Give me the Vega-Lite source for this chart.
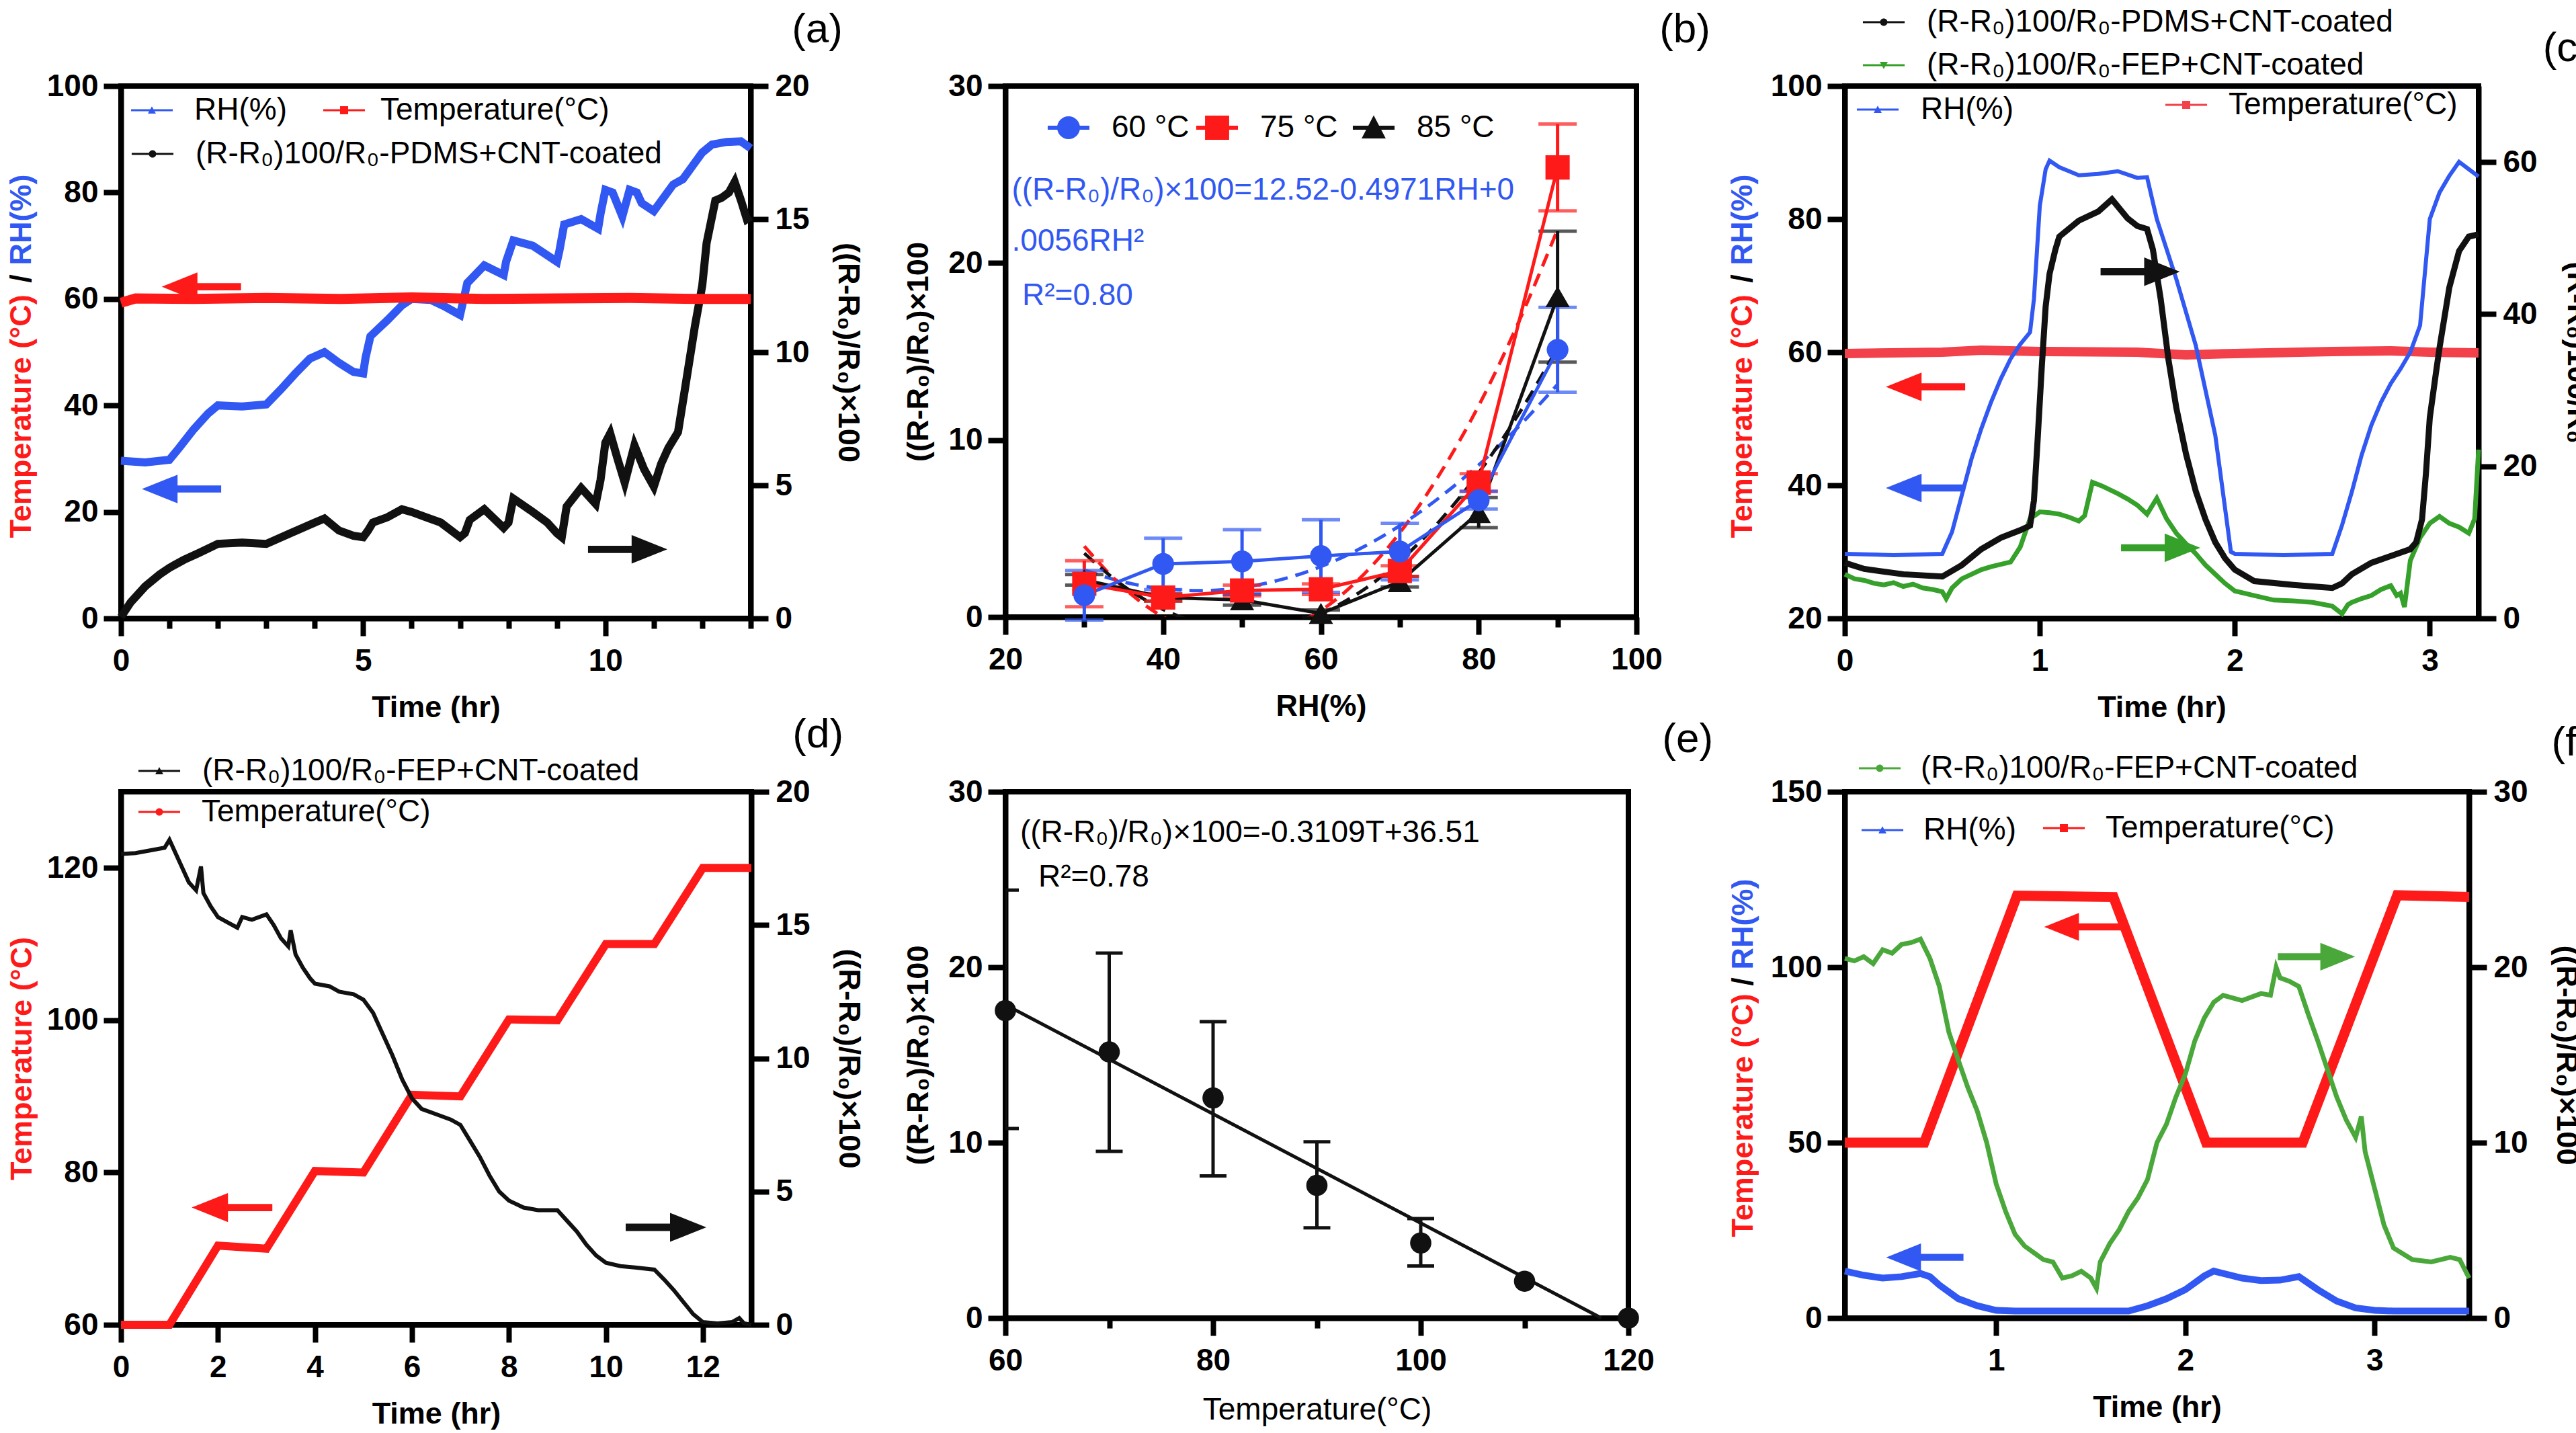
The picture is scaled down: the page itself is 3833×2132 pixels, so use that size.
{
"$schema": "https://vega.github.io/schema/vega-lite/v6.json",
"padding": {"left": 5, "top": 6, "right": 0, "bottom": 0},
"background": "white",
"datasets": {
"a_rh": [{"t":0,"v":29.6},{"t":0.5,"v":29.3},{"t":1.0,"v":29.8},{"t":1.2,"v":32},{"t":1.5,"v":35.5},{"t":1.8,"v":38.5},{"t":2.0,"v":40},{"t":2.5,"v":39.8},{"t":3.0,"v":40.2},{"t":3.3,"v":43},{"t":3.6,"v":46},{"t":3.9,"v":48.8},{"t":4.2,"v":50},{"t":4.5,"v":48},{"t":4.8,"v":46.3},{"t":5.0,"v":46},{"t":5.05,"v":49},{"t":5.15,"v":53},{"t":5.5,"v":56},{"t":5.8,"v":58.8},{"t":6.0,"v":60},{"t":6.4,"v":59.8},{"t":6.7,"v":58.5},{"t":7.0,"v":57},{"t":7.05,"v":59},{"t":7.15,"v":63},{"t":7.5,"v":66.3},{"t":7.9,"v":64.5},{"t":7.95,"v":67},{"t":8.1,"v":71},{"t":8.5,"v":70},{"t":9.0,"v":67},{"t":9.05,"v":69},{"t":9.15,"v":74},{"t":9.5,"v":75},{"t":9.85,"v":73.2},{"t":9.9,"v":76},{"t":10.0,"v":80.5},{"t":10.15,"v":80},{"t":10.35,"v":75.5},{"t":10.5,"v":80.5},{"t":10.65,"v":80},{"t":10.75,"v":78},{"t":11.0,"v":76.5},{"t":11.2,"v":79},{"t":11.4,"v":81.5},{"t":11.6,"v":82.5},{"t":11.8,"v":85},{"t":12.0,"v":87.5},{"t":12.2,"v":89},{"t":12.5,"v":89.5},{"t":12.8,"v":89.6},{"t":13,"v":88.3}],
"a_temp": [{"t":0,"v":59.3},{"t":0.3,"v":60.1},{"t":1.5,"v":60},{"t":3,"v":60.2},{"t":4.5,"v":60},{"t":6,"v":60.3},{"t":7.5,"v":60},{"t":9,"v":60.1},{"t":10.5,"v":60.2},{"t":12,"v":60},{"t":13,"v":60}],
"a_r": [{"t":0,"v":0.05},{"t":0.2,"v":0.6},{"t":0.5,"v":1.2},{"t":0.8,"v":1.65},{"t":1.0,"v":1.9},{"t":1.3,"v":2.2},{"t":1.6,"v":2.45},{"t":2.0,"v":2.8},{"t":2.5,"v":2.85},{"t":3.0,"v":2.8},{"t":3.5,"v":3.2},{"t":4.0,"v":3.6},{"t":4.2,"v":3.75},{"t":4.5,"v":3.3},{"t":4.8,"v":3.1},{"t":5.0,"v":3.05},{"t":5.1,"v":3.3},{"t":5.2,"v":3.6},{"t":5.5,"v":3.8},{"t":5.8,"v":4.1},{"t":6.0,"v":4.0},{"t":6.3,"v":3.8},{"t":6.6,"v":3.6},{"t":7.0,"v":3.05},{"t":7.1,"v":3.2},{"t":7.2,"v":3.7},{"t":7.5,"v":4.1},{"t":7.9,"v":3.4},{"t":8.0,"v":3.6},{"t":8.1,"v":4.5},{"t":8.5,"v":4.0},{"t":8.8,"v":3.6},{"t":9.0,"v":3.2},{"t":9.1,"v":3.05},{"t":9.2,"v":4.2},{"t":9.5,"v":4.9},{"t":9.8,"v":4.3},{"t":9.9,"v":5.2},{"t":10.0,"v":6.6},{"t":10.1,"v":6.95},{"t":10.25,"v":6.0},{"t":10.4,"v":5.1},{"t":10.6,"v":6.5},{"t":10.8,"v":5.6},{"t":11.0,"v":4.95},{"t":11.15,"v":5.8},{"t":11.3,"v":6.4},{"t":11.5,"v":7.0},{"t":11.65,"v":8.7},{"t":11.85,"v":11.0},{"t":12.0,"v":12.5},{"t":12.09,"v":14.1},{"t":12.27,"v":15.7},{"t":12.4,"v":15.8},{"t":12.55,"v":16.0},{"t":12.67,"v":16.4},{"t":12.8,"v":15.7},{"t":12.92,"v":15.0},{"t":13,"v":15.1}],
"b60": [{"rh":30,"v":1.23,"lo":-0.17,"hi":2.63},{"rh":40,"v":3.0,"lo":1.55,"hi":4.45},{"rh":50,"v":3.14,"lo":1.34,"hi":4.94},{"rh":60,"v":3.45,"lo":1.4,"hi":5.5},{"rh":70,"v":3.7,"lo":2.1,"hi":5.3},{"rh":80,"v":6.6,"lo":6.1,"hi":7.1},{"rh":90,"v":15.1,"lo":12.7,"hi":17.5}],
"b75": [{"rh":30,"v":1.88,"lo":0.58,"hi":3.18},{"rh":40,"v":1.1,"lo":0.9,"hi":1.3},{"rh":50,"v":1.5,"lo":1.2,"hi":1.8},{"rh":60,"v":1.57,"lo":1.27,"hi":1.87},{"rh":70,"v":2.6,"lo":2.3,"hi":2.9},{"rh":80,"v":7.6,"lo":7.1,"hi":8.1},{"rh":90,"v":25.4,"lo":22.95,"hi":27.85}],
"b85": [{"rh":30,"v":2.1,"lo":1.8,"hi":2.4},{"rh":40,"v":1.1,"lo":0.9,"hi":1.3},{"rh":50,"v":0.97,"lo":0.67,"hi":1.27},{"rh":60,"v":0.2,"lo":0.0,"hi":0.4},{"rh":70,"v":2.0,"lo":1.7,"hi":2.3},{"rh":80,"v":5.9,"lo":5.05,"hi":6.75},{"rh":90,"v":18.1,"lo":14.4,"hi":21.8}],
"b60fit": [{"rh":30,"v":2.65},{"rh":35,"v":1.98},{"rh":40,"v":1.6},{"rh":45,"v":1.49},{"rh":50,"v":1.67},{"rh":55,"v":2.12},{"rh":60,"v":2.85},{"rh":65,"v":3.87},{"rh":70,"v":5.16},{"rh":75,"v":6.74},{"rh":80,"v":8.59},{"rh":85,"v":10.73},{"rh":90,"v":13.14}],
"b75fit": [{"rh":30,"v":4.0},{"rh":35,"v":1.65},{"rh":40,"v":0.0},{"rh":45,"v":-0.96},{"rh":50,"v":-1.21},{"rh":55,"v":-0.7},{"rh":60,"v":0.37},{"rh":65,"v":2.22},{"rh":70,"v":4.76},{"rh":75,"v":8.03},{"rh":80,"v":11.94},{"rh":85,"v":16.6},{"rh":90,"v":21.9}],
"b85fit": [{"rh":30,"v":3.6},{"rh":35,"v":1.75},{"rh":40,"v":0.43},{"rh":45,"v":-0.4},{"rh":50,"v":-0.71},{"rh":55,"v":-0.51},{"rh":60,"v":0.2},{"rh":65,"v":1.42},{"rh":70,"v":3.16},{"rh":75,"v":5.4},{"rh":80,"v":8.15},{"rh":85,"v":11.42},{"rh":90,"v":15.2}],
"c_rh": [{"t":0,"v":29.7},{"t":0.25,"v":29.5},{"t":0.5,"v":29.7},{"t":0.55,"v":33},{"t":0.6,"v":38.5},{"t":0.65,"v":44},{"t":0.7,"v":48.5},{"t":0.75,"v":52.5},{"t":0.8,"v":56},{"t":0.85,"v":59},{"t":0.9,"v":61.2},{"t":0.95,"v":63},{"t":0.97,"v":68},{"t":1.0,"v":82},{"t":1.03,"v":87.5},{"t":1.05,"v":88.8},{"t":1.1,"v":87.8},{"t":1.2,"v":86.6},{"t":1.3,"v":86.8},{"t":1.4,"v":87.2},{"t":1.5,"v":86.2},{"t":1.55,"v":86.3},{"t":1.6,"v":80},{"t":1.7,"v":71},{"t":1.8,"v":61},{"t":1.9,"v":47.5},{"t":1.98,"v":30},{"t":2.0,"v":29.7},{"t":2.25,"v":29.5},{"t":2.5,"v":29.7},{"t":2.55,"v":34},{"t":2.6,"v":39},{"t":2.65,"v":44.5},{"t":2.7,"v":49},{"t":2.75,"v":52.5},{"t":2.8,"v":55.3},{"t":2.85,"v":57.5},{"t":2.9,"v":60},{"t":2.95,"v":64},{"t":3.0,"v":80},{"t":3.05,"v":84},{"t":3.1,"v":86.5},{"t":3.15,"v":88.6},{"t":3.2,"v":87.5},{"t":3.25,"v":86.4}],
"c_temp": [{"t":0,"v":59.8},{"t":0.5,"v":60},{"t":0.7,"v":60.3},{"t":1.0,"v":60.1},{"t":1.5,"v":60},{"t":1.75,"v":59.6},{"t":2.0,"v":59.8},{"t":2.5,"v":60.1},{"t":2.8,"v":60.2},{"t":3.0,"v":60},{"t":3.25,"v":59.9}],
"c_pdms": [{"t":0,"v":7.3},{"t":0.1,"v":6.5},{"t":0.3,"v":5.8},{"t":0.5,"v":5.5},{"t":0.6,"v":7.0},{"t":0.7,"v":9.1},{"t":0.8,"v":10.6},{"t":0.9,"v":11.6},{"t":0.95,"v":12.2},{"t":0.97,"v":15.5},{"t":0.99,"v":24},{"t":1.01,"v":33},{"t":1.03,"v":41},{"t":1.05,"v":45.3},{"t":1.08,"v":48.5},{"t":1.1,"v":50.2},{"t":1.2,"v":52.3},{"t":1.3,"v":53.5},{"t":1.37,"v":55.1},{"t":1.45,"v":52.6},{"t":1.5,"v":51.6},{"t":1.55,"v":51.2},{"t":1.58,"v":48.5},{"t":1.62,"v":42},{"t":1.66,"v":34},{"t":1.7,"v":27.7},{"t":1.75,"v":21.6},{"t":1.8,"v":16.7},{"t":1.85,"v":13},{"t":1.9,"v":10.0},{"t":1.95,"v":7.9},{"t":2.0,"v":6.4},{"t":2.1,"v":4.9},{"t":2.3,"v":4.4},{"t":2.5,"v":4.0},{"t":2.55,"v":4.6},{"t":2.6,"v":5.8},{"t":2.7,"v":7.3},{"t":2.8,"v":8.2},{"t":2.9,"v":9.1},{"t":2.93,"v":10},{"t":2.96,"v":13},{"t":2.98,"v":19},{"t":3.0,"v":26.4},{"t":3.03,"v":32},{"t":3.05,"v":35.6},{"t":3.1,"v":43.5},{"t":3.15,"v":48.3},{"t":3.2,"v":50.2},{"t":3.25,"v":50.5}],
"c_fep": [{"t":0,"v":5.8},{"t":0.05,"v":5.2},{"t":0.1,"v":5.0},{"t":0.15,"v":4.6},{"t":0.2,"v":4.4},{"t":0.25,"v":4.7},{"t":0.3,"v":4.2},{"t":0.35,"v":4.5},{"t":0.4,"v":4.0},{"t":0.45,"v":3.8},{"t":0.5,"v":3.5},{"t":0.52,"v":2.6},{"t":0.55,"v":4.0},{"t":0.6,"v":5.2},{"t":0.65,"v":5.8},{"t":0.7,"v":6.4},{"t":0.75,"v":6.8},{"t":0.8,"v":7.1},{"t":0.85,"v":7.4},{"t":0.9,"v":9.4},{"t":0.95,"v":13.1},{"t":1.0,"v":14.0},{"t":1.05,"v":13.9},{"t":1.1,"v":13.7},{"t":1.15,"v":13.3},{"t":1.2,"v":12.8},{"t":1.23,"v":13.5},{"t":1.27,"v":17.9},{"t":1.32,"v":17.4},{"t":1.4,"v":16.4},{"t":1.45,"v":15.7},{"t":1.5,"v":14.9},{"t":1.55,"v":13.7},{"t":1.6,"v":15.8},{"t":1.65,"v":13.1},{"t":1.7,"v":11.2},{"t":1.75,"v":9.8},{"t":1.8,"v":8.5},{"t":1.85,"v":7.0},{"t":1.9,"v":5.8},{"t":1.95,"v":4.6},{"t":2.0,"v":3.6},{"t":2.1,"v":3.0},{"t":2.2,"v":2.4},{"t":2.3,"v":2.3},{"t":2.4,"v":2.1},{"t":2.5,"v":1.6},{"t":2.55,"v":0.6},{"t":2.58,"v":1.8},{"t":2.6,"v":2.1},{"t":2.65,"v":2.6},{"t":2.7,"v":3.0},{"t":2.75,"v":3.8},{"t":2.8,"v":4.3},{"t":2.83,"v":3.0},{"t":2.85,"v":3.3},{"t":2.87,"v":1.5},{"t":2.88,"v":3.5},{"t":2.9,"v":7.6},{"t":2.95,"v":10.6},{"t":3.0,"v":12.5},{"t":3.05,"v":13.4},{"t":3.1,"v":12.5},{"t":3.15,"v":12.0},{"t":3.2,"v":11.2},{"t":3.23,"v":13.1},{"t":3.25,"v":22.2}],
"d_temp": [{"t":0,"v":60},{"t":1,"v":60},{"t":2,"v":70.4},{"t":3,"v":70},{"t":4,"v":80.2},{"t":5,"v":80},{"t":6,"v":90.2},{"t":7,"v":90},{"t":8,"v":100.1},{"t":9,"v":100},{"t":10,"v":110},{"t":11,"v":110},{"t":12,"v":120},{"t":13,"v":120}],
"d_fep": [{"t":0,"v":17.67},{"t":0.3,"v":17.7},{"t":0.6,"v":17.8},{"t":0.9,"v":17.9},{"t":1.0,"v":18.2},{"t":1.1,"v":17.8},{"t":1.25,"v":17.2},{"t":1.4,"v":16.6},{"t":1.55,"v":16.3},{"t":1.65,"v":17.2},{"t":1.7,"v":16.2},{"t":1.85,"v":15.7},{"t":2.0,"v":15.3},{"t":2.2,"v":15.1},{"t":2.4,"v":14.9},{"t":2.5,"v":15.3},{"t":2.7,"v":15.2},{"t":3.0,"v":15.4},{"t":3.15,"v":15.0},{"t":3.3,"v":14.5},{"t":3.45,"v":14.2},{"t":3.5,"v":14.8},{"t":3.6,"v":13.9},{"t":3.75,"v":13.4},{"t":3.9,"v":13.0},{"t":4.0,"v":12.8},{"t":4.3,"v":12.7},{"t":4.5,"v":12.5},{"t":4.8,"v":12.4},{"t":5.0,"v":12.2},{"t":5.2,"v":11.7},{"t":5.4,"v":10.9},{"t":5.6,"v":10.1},{"t":5.8,"v":9.2},{"t":6.0,"v":8.5},{"t":6.2,"v":8.1},{"t":6.5,"v":7.9},{"t":6.8,"v":7.7},{"t":7.0,"v":7.5},{"t":7.2,"v":6.9},{"t":7.4,"v":6.3},{"t":7.6,"v":5.6},{"t":7.8,"v":5.0},{"t":8.0,"v":4.66},{"t":8.3,"v":4.4},{"t":8.6,"v":4.3},{"t":9.0,"v":4.3},{"t":9.2,"v":3.9},{"t":9.4,"v":3.5},{"t":9.6,"v":3.0},{"t":9.8,"v":2.6},{"t":10.0,"v":2.33},{"t":10.3,"v":2.2},{"t":10.6,"v":2.15},{"t":11.0,"v":2.07},{"t":11.2,"v":1.7},{"t":11.4,"v":1.3},{"t":11.6,"v":0.85},{"t":11.8,"v":0.4},{"t":12.0,"v":0.1},{"t":12.3,"v":0.05},{"t":12.6,"v":0.1},{"t":12.75,"v":0.25},{"t":12.85,"v":0.05},{"t":13,"v":0.0}],
"e_pts": [{"T":60,"v":17.53},{"T":70,"v":15.17},{"T":80,"v":12.55},{"T":90,"v":7.56},{"T":100,"v":4.28},{"T":110,"v":2.1},{"T":120,"v":0}],
"e_err": [{"T":60,"lo":10.8,"hi":24.4},{"T":70,"lo":9.5,"hi":20.8},{"T":80,"lo":8.1,"hi":16.9},{"T":90,"lo":5.14,"hi":10.05},{"T":100,"lo":2.97,"hi":5.67}],
"e_fit": [{"T":60,"v":17.86},{"T":117.4,"v":0}],
"f_temp": [{"t":0.2,"v":50},{"t":0.62,"v":50},{"t":1.11,"v":120.4},{"t":1.62,"v":120},{"t":2.11,"v":50},{"t":2.62,"v":50},{"t":3.12,"v":120.5},{"t":3.5,"v":120}],
"f_rh": [{"t":0.2,"v":13.4},{"t":0.3,"v":12.2},{"t":0.4,"v":11.4},{"t":0.5,"v":11.8},{"t":0.6,"v":12.7},{"t":0.65,"v":11.8},{"t":0.7,"v":9.4},{"t":0.8,"v":5.5},{"t":0.9,"v":3.5},{"t":1.0,"v":2.2},{"t":1.1,"v":2.0},{"t":1.4,"v":2.0},{"t":1.7,"v":2.0},{"t":1.8,"v":3.5},{"t":1.9,"v":5.5},{"t":2.0,"v":8.1},{"t":2.1,"v":12.0},{"t":2.15,"v":13.4},{"t":2.3,"v":11.4},{"t":2.4,"v":10.7},{"t":2.5,"v":10.8},{"t":2.6,"v":11.8},{"t":2.7,"v":8.1},{"t":2.8,"v":4.85},{"t":2.9,"v":2.9},{"t":3.0,"v":2.2},{"t":3.1,"v":2.0},{"t":3.5,"v":2.0}],
"f_fep": [{"t":0.2,"v":20.5},{"t":0.25,"v":20.36},{"t":0.3,"v":20.6},{"t":0.35,"v":20.2},{"t":0.4,"v":21.0},{"t":0.45,"v":20.8},{"t":0.5,"v":21.3},{"t":0.55,"v":21.4},{"t":0.6,"v":21.6},{"t":0.65,"v":20.5},{"t":0.7,"v":18.9},{"t":0.75,"v":16.3},{"t":0.8,"v":14.7},{"t":0.85,"v":13.15},{"t":0.9,"v":11.8},{"t":0.95,"v":10.0},{"t":1.0,"v":7.65},{"t":1.05,"v":6.08},{"t":1.1,"v":4.77},{"t":1.15,"v":4.11},{"t":1.2,"v":3.72},{"t":1.25,"v":3.33},{"t":1.3,"v":3.2},{"t":1.35,"v":2.28},{"t":1.4,"v":2.41},{"t":1.45,"v":2.67},{"t":1.5,"v":2.28},{"t":1.53,"v":1.7},{"t":1.55,"v":3.2},{"t":1.6,"v":4.24},{"t":1.65,"v":5.03},{"t":1.7,"v":6.08},{"t":1.75,"v":6.86},{"t":1.8,"v":7.9},{"t":1.85,"v":10.0},{"t":1.9,"v":11.05},{"t":1.95,"v":12.6},{"t":2.0,"v":13.9},{"t":2.05,"v":15.8},{"t":2.1,"v":17.1},{"t":2.15,"v":18.0},{"t":2.2,"v":18.4},{"t":2.3,"v":18.1},{"t":2.4,"v":18.5},{"t":2.45,"v":18.4},{"t":2.48,"v":20.0},{"t":2.5,"v":19.4},{"t":2.55,"v":19.2},{"t":2.6,"v":18.9},{"t":2.65,"v":17.3},{"t":2.7,"v":15.8},{"t":2.75,"v":14.2},{"t":2.8,"v":12.6},{"t":2.85,"v":11.3},{"t":2.9,"v":10.3},{"t":2.93,"v":11.5},{"t":2.95,"v":9.5},{"t":3.0,"v":7.4},{"t":3.05,"v":5.3},{"t":3.1,"v":4.0},{"t":3.2,"v":3.33},{"t":3.3,"v":3.2},{"t":3.4,"v":3.46},{"t":3.45,"v":3.33},{"t":3.5,"v":2.28}]
},
"concat": [
{
"width": 937, "height": 792,
"layer": [
{"data": {"name": "a_rh"}, "mark": {"type": "line"}, "encoding": {
 "x": {"field": "t", "type": "quantitative", "scale": {"domain": [0, 13], "nice": false, "zero": false}, "axis": {"title": "Time (hr)", "format": "d", "values": [0,1,2,3,4,5,6,7,8,9,10,11,12,13], "labelExpr": "datum.value % 5 === 0 ? datum.label : ''", "tickSize": {"condition": {"test": "datum.value % 5 === 0", "value": 26}, "value": 15}}},
 "y": {"field": "v", "type": "quantitative", "scale": {"domain": [0, 100], "nice": false}, "axis": {"orient": "left", "values": [0,20,40,60,80,100], "title": "RH(%)", "titleColor": "#3158f2", "titleX": -126, "titleY": 266, "titleAlign": "left", "titleAngle": 270, "titleBaseline": "bottom"}},
 "color": {"datum": "RH(%)", "scale": {"domain": ["RH(%)"], "range": ["#3158f2"]}, "legend": {"title": null, "symbolType": "M-1.35,-0.07H1.35V0.07H-1.35ZM-0.26,0.22L0,-0.25L0.26,0.22Z", "symbolFillColor": "#3158f2", "legendX": 23, "legendY": 13, "labelOffset": 40}},
 "strokeWidth": {"value": 12}}},
{"data": {"name": "a_r"}, "mark": {"type": "line"}, "encoding": {
 "x": {"field": "t", "type": "quantitative", "scale": {"domain": [0, 13], "nice": false, "zero": false}},
 "y": {"field": "v", "type": "quantitative", "scale": {"domain": [0, 20], "nice": false}, "axis": {"orient": "right", "values": [0,5,10,15,20], "title": "((R-R\u2080)/R\u2080)\u00d7100"}},
 "color": {"datum": "(R-R\u2080)100/R\u2080-PDMS+CNT-coated", "scale": {"domain": ["(R-R\u2080)100/R\u2080-PDMS+CNT-coated"], "range": ["#111111"]}, "legend": {"title": null, "symbolType": "M-1.35,-0.07H1.35V0.07H-1.35ZM-0.24,0A0.24,0.24,0,1,1,0.24,0A0.24,0.24,0,1,1,-0.24,0Z", "symbolFillColor": "#111111", "legendX": 24, "legendY": 78, "labelOffset": 41}},
 "strokeWidth": {"value": 12}}},
{"data": {"name": "a_temp"}, "mark": {"type": "line"}, "encoding": {
 "x": {"field": "t", "type": "quantitative", "scale": {"domain": [0, 13], "nice": false, "zero": false}},
 "y": {"field": "v", "type": "quantitative", "scale": {"domain": [0, 100], "nice": false}, "axis": {"orient": "left", "labels": false, "ticks": false, "domain": false, "title": "Temperature (\u00b0C)", "titleColor": "#ff1a1a", "titleX": -126, "titleY": 672, "titleAlign": "left", "titleAngle": 270, "titleBaseline": "bottom"}},
 "color": {"datum": "Temperature(\u00b0C)", "scale": {"domain": ["Temperature(\u00b0C)"], "range": ["#ff1a1a"]}, "legend": {"title": null, "symbolType": "M-1.35,-0.07H1.35V0.07H-1.35ZM-0.26,-0.26H0.26V0.26H-0.26Z", "symbolFillColor": "#ff1a1a", "legendX": 309, "legendY": 13, "labelOffset": 31}},
 "strokeWidth": {"value": 15}}},
{"data": {"values": [{}]}, "mark": {"type": "point", "shape": "M-1,0L-0.1,-0.36L-0.1,-0.09L1,-0.09L1,0.09L-0.1,0.09L-0.1,0.36Z", "size": 13924, "filled": true, "opacity": 1, "strokeWidth": 0, "color": "#ff1a1a"}, "encoding": {"x": {"datum": 1.66, "type": "quantitative"}, "y": {"datum": 62.3, "type": "quantitative", "scale": {"domain": [0, 100], "nice": false}, "axis": null}}},
{"data": {"values": [{}]}, "mark": {"type": "point", "shape": "M-1,0L-0.1,-0.36L-0.1,-0.09L1,-0.09L1,0.09L-0.1,0.09L-0.1,0.36Z", "size": 13924, "filled": true, "opacity": 1, "strokeWidth": 0, "color": "#3158f2"}, "encoding": {"x": {"datum": 1.25, "type": "quantitative"}, "y": {"datum": 24.3, "type": "quantitative", "scale": {"domain": [0, 100], "nice": false}, "axis": null}}},
{"data": {"values": [{}]}, "mark": {"type": "point", "shape": "M1,0L0.1,-0.36L0.1,-0.09L-1,-0.09L-1,0.09L0.1,0.09L0.1,0.36Z", "size": 13924, "filled": true, "opacity": 1, "strokeWidth": 0, "color": "#111111"}, "encoding": {"x": {"datum": 10.46, "type": "quantitative"}, "y": {"datum": 12.96, "type": "quantitative", "scale": {"domain": [0, 100], "nice": false}, "axis": {"orient": "left", "labels": false, "ticks": false, "domain": false, "title": "/", "titleColor": "black", "titleX": -126, "titleY": 286, "titleAlign": "center", "titleAngle": 270, "titleBaseline": "bottom"}}}},
{"data": {"values": [{}]}, "mark": {"type": "text", "align": "right", "baseline": "middle", "fontSize": 62, "color": "black"}, "encoding": {"x": {"datum": 14.9, "type": "quantitative"}, "y": {"datum": 110.6, "type": "quantitative", "scale": {"domain": [0, 100], "nice": false}, "axis": null}, "text": {"value": "(a)"}}},
{"data": {"values": [{}]}, "mark": {"type": "point", "filled": true, "size": 4, "opacity": 0}, "encoding": {"x": {"datum": 15.858, "type": "quantitative"}, "y": {"datum": 110.6, "type": "quantitative", "scale": {"domain": [0, 100], "nice": false}, "axis": null}}}
],
"resolve": {"scale": {"y": "independent", "color": "independent"}}
},
{
"width": 939, "height": 790,
"layer": [
{"data": {"name": "b60fit"}, "mark": {"type": "line", "clip": true, "interpolate": "monotone", "color": "#3158f2"}, "encoding": {
 "x": {"field": "rh", "type": "quantitative", "scale": {"domain": [20, 100], "nice": false, "zero": false}, "axis": {"title": "RH(%)", "values": [20,30,40,50,60,70,80,90,100], "labelExpr": "datum.value % 20 === 0 ? datum.label : ''", "tickSize": {"condition": {"test": "datum.value % 20 === 0", "value": 26}, "value": 15}}},
 "y": {"field": "v", "type": "quantitative", "title": "((R-R\u2080)/R\u2080)\u00d7100", "scale": {"domain": [0, 30], "nice": false}, "axis": {"values": [0,10,20,30], "title": "((R-R\u2080)/R\u2080)\u00d7100"}},
 "strokeWidth": {"value": 5}, "strokeDash": {"value": [20, 12]}}},
{"data": {"name": "b75fit"}, "mark": {"type": "line", "clip": true, "interpolate": "monotone", "color": "#ff1a1a"}, "encoding": {
 "x": {"field": "rh", "type": "quantitative", "scale": {"domain": [20, 100], "nice": false, "zero": false}},
 "y": {"field": "v", "type": "quantitative", "title": "((R-R\u2080)/R\u2080)\u00d7100", "scale": {"domain": [0, 30], "nice": false}},
 "strokeWidth": {"value": 5}, "strokeDash": {"value": [20, 12]}}},
{"data": {"name": "b85fit"}, "mark": {"type": "line", "clip": true, "interpolate": "monotone", "color": "#111111"}, "encoding": {
 "x": {"field": "rh", "type": "quantitative", "scale": {"domain": [20, 100], "nice": false, "zero": false}},
 "y": {"field": "v", "type": "quantitative", "title": "((R-R\u2080)/R\u2080)\u00d7100", "scale": {"domain": [0, 30], "nice": false}},
 "strokeWidth": {"value": 5}, "strokeDash": {"value": [20, 12]}}},
{"data": {"name": "b85"}, "mark": {"type": "errorbar", "color": "#111111", "thickness": 5, "ticks": {"size": 57}}, "encoding": {"x": {"field": "rh", "type": "quantitative", "scale": {"domain": [20, 100], "nice": false, "zero": false}}, "y": {"field": "lo", "type": "quantitative", "title": "((R-R\u2080)/R\u2080)\u00d7100", "scale": {"domain": [0, 30], "nice": false}}, "y2": {"field": "hi"}}},
{"data": {"name": "b75"}, "mark": {"type": "errorbar", "color": "#ff1a1a", "thickness": 5, "ticks": {"size": 57}}, "encoding": {"x": {"field": "rh", "type": "quantitative", "scale": {"domain": [20, 100], "nice": false, "zero": false}}, "y": {"field": "lo", "type": "quantitative", "title": "((R-R\u2080)/R\u2080)\u00d7100", "scale": {"domain": [0, 30], "nice": false}}, "y2": {"field": "hi"}}},
{"data": {"name": "b60"}, "mark": {"type": "errorbar", "color": "#3158f2", "thickness": 5, "ticks": {"size": 57}}, "encoding": {"x": {"field": "rh", "type": "quantitative", "scale": {"domain": [20, 100], "nice": false, "zero": false}}, "y": {"field": "lo", "type": "quantitative", "title": "((R-R\u2080)/R\u2080)\u00d7100", "scale": {"domain": [0, 30], "nice": false}}, "y2": {"field": "hi"}}},
{"data": {"name": "b85"}, "mark": {"type": "line"}, "encoding": {"x": {"field": "rh", "type": "quantitative", "scale": {"domain": [20, 100], "nice": false, "zero": false}}, "y": {"field": "v", "type": "quantitative", "title": "((R-R\u2080)/R\u2080)\u00d7100", "scale": {"domain": [0, 30], "nice": false}}, "strokeWidth": {"value": 5}, "color": {"datum": "85 \u00b0C", "scale": {"domain": ["85 \u00b0C"], "range": ["#111111"]}, "legend": {"title": null, "symbolType": "M-1.35,-0.13H1.35V0.13H-1.35ZM-0.78,0.7L0,-0.8L0.78,0.7Z", "symbolFillColor": "#111111", "legendX": 525, "legendY": 39, "labelOffset": 41}}}},
{"data": {"name": "b75"}, "mark": {"type": "line"}, "encoding": {"x": {"field": "rh", "type": "quantitative", "scale": {"domain": [20, 100], "nice": false, "zero": false}}, "y": {"field": "v", "type": "quantitative", "title": "((R-R\u2080)/R\u2080)\u00d7100", "scale": {"domain": [0, 30], "nice": false}}, "strokeWidth": {"value": 5}, "color": {"datum": "75 \u00b0C", "scale": {"domain": ["75 \u00b0C"], "range": ["#ff1a1a"]}, "legend": {"title": null, "symbolType": "M-1.35,-0.13H1.35V0.13H-1.35ZM-0.78,-0.78H0.78V0.78H-0.78Z", "symbolFillColor": "#ff1a1a", "legendX": 292, "legendY": 39, "labelOffset": 41}}}},
{"data": {"name": "b60"}, "mark": {"type": "line"}, "encoding": {"x": {"field": "rh", "type": "quantitative", "scale": {"domain": [20, 100], "nice": false, "zero": false}}, "y": {"field": "v", "type": "quantitative", "title": "((R-R\u2080)/R\u2080)\u00d7100", "scale": {"domain": [0, 30], "nice": false}}, "strokeWidth": {"value": 5}, "color": {"datum": "60 \u00b0C", "scale": {"domain": ["60 \u00b0C"], "range": ["#3158f2"]}, "legend": {"title": null, "symbolType": "M-1.35,-0.13H1.35V0.13H-1.35ZM-0.74,0A0.74,0.74,0,1,1,0.74,0A0.74,0.74,0,1,1,-0.74,0Z", "symbolFillColor": "#3158f2", "legendX": 71, "legendY": 39, "labelOffset": 41}}}},
{"data": {"name": "b85"}, "mark": {"type": "point", "shape": "triangle-up", "filled": true, "size": 1300, "opacity": 1, "color": "#111111"}, "encoding": {"x": {"field": "rh", "type": "quantitative", "scale": {"domain": [20, 100], "nice": false, "zero": false}}, "y": {"field": "v", "type": "quantitative", "title": "((R-R\u2080)/R\u2080)\u00d7100", "scale": {"domain": [0, 30], "nice": false}}}},
{"data": {"name": "b75"}, "mark": {"type": "point", "shape": "square", "filled": true, "size": 1300, "opacity": 1, "color": "#ff1a1a"}, "encoding": {"x": {"field": "rh", "type": "quantitative", "scale": {"domain": [20, 100], "nice": false, "zero": false}}, "y": {"field": "v", "type": "quantitative", "title": "((R-R\u2080)/R\u2080)\u00d7100", "scale": {"domain": [0, 30], "nice": false}}}},
{"data": {"name": "b60"}, "mark": {"type": "point", "shape": "circle", "filled": true, "size": 1050, "opacity": 1, "color": "#3158f2"}, "encoding": {"x": {"field": "rh", "type": "quantitative", "scale": {"domain": [20, 100], "nice": false, "zero": false}}, "y": {"field": "v", "type": "quantitative", "title": "((R-R\u2080)/R\u2080)\u00d7100", "scale": {"domain": [0, 30], "nice": false}}}},
{"data": {"values": [{}]}, "mark": {"type": "text", "align": "left", "baseline": "alphabetic", "color": "#3158f2"}, "encoding": {"x": {"datum": 20.8, "type": "quantitative"}, "y": {"datum": 23.58, "type": "quantitative"}, "text": {"value": "((R-R\u2080)/R\u2080)\u00d7100=12.52-0.4971RH+0"}}},
{"data": {"values": [{}]}, "mark": {"type": "text", "align": "left", "baseline": "alphabetic", "color": "#3158f2"}, "encoding": {"x": {"datum": 20.8, "type": "quantitative"}, "y": {"datum": 20.7, "type": "quantitative"}, "text": {"value": ".0056RH\u00b2"}}},
{"data": {"values": [{}]}, "mark": {"type": "text", "align": "left", "baseline": "alphabetic", "color": "#3158f2"}, "encoding": {"x": {"datum": 22.13, "type": "quantitative"}, "y": {"datum": 17.62, "type": "quantitative"}, "text": {"value": "R\u00b2=0.80"}}},
{"data": {"values": [{}]}, "mark": {"type": "text", "align": "right", "baseline": "middle", "fontSize": 62, "color": "black"}, "encoding": {"x": {"datum": 109.37, "type": "quantitative"}, "y": {"datum": 33.19, "type": "quantitative"}, "text": {"value": "(b)"}}}
],
"resolve": {"scale": {"color": "independent"}}
},
{
"width": 943, "height": 792,
"layer": [
{"data": {"name": "c_temp"}, "mark": {"type": "line"}, "encoding": {
 "x": {"field": "t", "type": "quantitative", "scale": {"domain": [0, 3.25], "nice": false, "zero": false}, "axis": {"title": "Time (hr)", "format": "d", "values": [0,1,2,3]}},
 "y": {"field": "v", "type": "quantitative", "scale": {"domain": [20, 100], "nice": false}, "axis": {"orient": "left", "labels": false, "ticks": false, "domain": false, "title": "Temperature (\u00b0C)", "titleColor": "#ff1a1a", "titleX": -130, "titleY": 672, "titleAlign": "left", "titleAngle": 270, "titleBaseline": "bottom"}},
 "color": {"datum": "Temperature(\u00b0C)", "scale": {"domain": ["Temperature(\u00b0C)"], "range": ["#f2414b"]}, "legend": {"title": null, "symbolType": "M-1.35,-0.07H1.35V0.07H-1.35ZM-0.26,-0.26H0.26V0.26H-0.26Z", "symbolFillColor": "#f2414b", "legendX": 485, "legendY": 5, "labelOffset": 40}},
 "strokeWidth": {"value": 14}}},
{"data": {"name": "c_rh"}, "mark": {"type": "line"}, "encoding": {
 "x": {"field": "t", "type": "quantitative", "scale": {"domain": [0, 3.25], "nice": false, "zero": false}},
 "y": {"field": "v", "type": "quantitative", "scale": {"domain": [20, 100], "nice": false}, "axis": {"orient": "left", "values": [20,40,60,80,100], "title": "RH(%)", "titleColor": "#3158f2", "titleX": -130, "titleY": 266, "titleAlign": "left", "titleAngle": 270, "titleBaseline": "bottom"}},
 "color": {"datum": "RH(%)", "scale": {"domain": ["RH(%)"], "range": ["#3158f2"]}, "legend": {"title": null, "symbolType": "M-1.35,-0.07H1.35V0.07H-1.35ZM-0.26,0.22L0,-0.25L0.26,0.22Z", "symbolFillColor": "#3158f2", "legendX": 26, "legendY": 12, "labelOffset": 41}},
 "strokeWidth": {"value": 6}}},
{"data": {"name": "c_fep"}, "mark": {"type": "line"}, "encoding": {
 "x": {"field": "t", "type": "quantitative", "scale": {"domain": [0, 3.25], "nice": false, "zero": false}},
 "y": {"field": "v", "type": "quantitative", "scale": {"domain": [0, 70], "nice": false}, "axis": null},
 "color": {"datum": "(R-R\u2080)100/R\u2080-FEP+CNT-coated", "scale": {"domain": ["(R-R\u2080)100/R\u2080-FEP+CNT-coated"], "range": ["#36a12a"]}, "legend": {"title": null, "symbolType": "M-1.35,-0.07H1.35V0.07H-1.35ZM-0.26,-0.22L0.26,-0.22L0,0.25Z", "symbolFillColor": "#36a12a", "legendX": 35, "legendY": -54, "labelOffset": 41}},
 "strokeWidth": {"value": 7}}},
{"data": {"name": "c_pdms"}, "mark": {"type": "line"}, "encoding": {
 "x": {"field": "t", "type": "quantitative", "scale": {"domain": [0, 3.25], "nice": false, "zero": false}},
 "y": {"field": "v", "type": "quantitative", "scale": {"domain": [0, 70], "nice": false}, "axis": {"orient": "right", "values": [0,20,40,60], "title": "(R-R\u2080)100/R\u2080", "titlePadding": 36}},
 "color": {"datum": "(R-R\u2080)100/R\u2080-PDMS+CNT-coated", "scale": {"domain": ["(R-R\u2080)100/R\u2080-PDMS+CNT-coated"], "range": ["#111111"]}, "legend": {"title": null, "symbolType": "M-1.35,-0.07H1.35V0.07H-1.35ZM-0.24,0A0.24,0.24,0,1,1,0.24,0A0.24,0.24,0,1,1,-0.24,0Z", "symbolFillColor": "#111111", "legendX": 35, "legendY": -118, "labelOffset": 41}},
 "strokeWidth": {"value": 9}}},
{"data": {"values": [{}]}, "mark": {"type": "point", "shape": "M-1,0L-0.1,-0.36L-0.1,-0.09L1,-0.09L1,0.09L-0.1,0.09L-0.1,0.36Z", "size": 13924, "filled": true, "opacity": 1, "strokeWidth": 0, "color": "#ff1a1a"}, "encoding": {"x": {"datum": 0.414, "type": "quantitative"}, "y": {"datum": 54.8, "type": "quantitative", "scale": {"domain": [20, 100], "nice": false}, "axis": null}}},
{"data": {"values": [{}]}, "mark": {"type": "point", "shape": "M-1,0L-0.1,-0.36L-0.1,-0.09L1,-0.09L1,0.09L-0.1,0.09L-0.1,0.36Z", "size": 13924, "filled": true, "opacity": 1, "strokeWidth": 0, "color": "#3158f2"}, "encoding": {"x": {"datum": 0.414, "type": "quantitative"}, "y": {"datum": 39.6, "type": "quantitative", "scale": {"domain": [20, 100], "nice": false}, "axis": null}}},
{"data": {"values": [{}]}, "mark": {"type": "point", "shape": "M1,0L0.1,-0.36L0.1,-0.09L-1,-0.09L-1,0.09L0.1,0.09L0.1,0.36Z", "size": 13924, "filled": true, "opacity": 1, "strokeWidth": 0, "color": "#111111"}, "encoding": {"x": {"datum": 1.515, "type": "quantitative"}, "y": {"datum": 72.1, "type": "quantitative", "scale": {"domain": [20, 100], "nice": false}, "axis": {"orient": "left", "labels": false, "ticks": false, "domain": false, "title": "/", "titleColor": "black", "titleX": -130, "titleY": 286, "titleAlign": "center", "titleAngle": 270, "titleBaseline": "bottom"}}}},
{"data": {"values": [{}]}, "mark": {"type": "point", "shape": "M1,0L0.1,-0.36L0.1,-0.09L-1,-0.09L-1,0.09L0.1,0.09L0.1,0.36Z", "size": 13924, "filled": true, "opacity": 1, "strokeWidth": 0, "color": "#36a12a"}, "encoding": {"x": {"datum": 1.62, "type": "quantitative"}, "y": {"datum": 30.6, "type": "quantitative", "scale": {"domain": [20, 100], "nice": false}, "axis": null}}},
{"data": {"values": [{}]}, "mark": {"type": "text", "align": "right", "baseline": "middle", "fontSize": 62, "color": "black"}, "encoding": {"x": {"datum": 3.829, "type": "quantitative"}, "y": {"datum": 105.7, "type": "quantitative", "scale": {"domain": [20, 100], "nice": false}, "axis": null}, "text": {"value": "(c)"}}}
],
"resolve": {"scale": {"y": "independent", "color": "independent"}}
},
{
"width": 938, "height": 793,
"layer": [
{"data": {"name": "d_temp"}, "mark": {"type": "line"}, "encoding": {
 "x": {"field": "t", "type": "quantitative", "scale": {"domain": [0, 13], "nice": false, "zero": false}, "axis": {"title": "Time (hr)", "format": "d", "values": [0,2,4,6,8,10,12]}},
 "y": {"field": "v", "type": "quantitative", "scale": {"domain": [60, 130], "nice": false}, "axis": {"orient": "left", "values": [60,80,100,120], "title": "Temperature (\u00b0C)", "titleColor": "#ff1a1a", "titlePadding": 14}},
 "color": {"datum": "Temperature(\u00b0C)", "scale": {"domain": ["Temperature(\u00b0C)"], "range": ["#ff1a1a"]}, "legend": {"title": null, "symbolType": "M-1.35,-0.07H1.35V0.07H-1.35ZM-0.24,0A0.24,0.24,0,1,1,0.24,0A0.24,0.24,0,1,1,-0.24,0Z", "symbolFillColor": "#ff1a1a", "legendX": 34, "legendY": 7, "labelOffset": 40}},
 "strokeWidth": {"value": 12}}},
{"data": {"name": "d_fep"}, "mark": {"type": "line"}, "encoding": {
 "x": {"field": "t", "type": "quantitative", "scale": {"domain": [0, 13], "nice": false, "zero": false}},
 "y": {"field": "v", "type": "quantitative", "scale": {"domain": [0, 20], "nice": false}, "axis": {"orient": "right", "values": [0,5,10,15,20], "title": "((R-R\u2080)/R\u2080)\u00d7100"}},
 "color": {"datum": "(R-R\u2080)100/R\u2080-FEP+CNT-coated", "scale": {"domain": ["(R-R\u2080)100/R\u2080-FEP+CNT-coated"], "range": ["#111111"]}, "legend": {"title": null, "symbolType": "M-1.35,-0.07H1.35V0.07H-1.35ZM-0.26,0.22L0,-0.25L0.26,0.22Z", "symbolFillColor": "#111111", "legendX": 34, "legendY": -54, "labelOffset": 41}},
 "strokeWidth": {"value": 6}}},
{"data": {"values": [{}]}, "mark": {"type": "point", "shape": "M-1,0L-0.1,-0.36L-0.1,-0.09L1,-0.09L1,0.09L-0.1,0.09L-0.1,0.36Z", "size": 14400, "filled": true, "opacity": 1, "strokeWidth": 0, "color": "#ff1a1a"}, "encoding": {"x": {"datum": 2.29, "type": "quantitative"}, "y": {"datum": 75.4, "type": "quantitative", "scale": {"domain": [60, 130], "nice": false}, "axis": null}}},
{"data": {"values": [{}]}, "mark": {"type": "point", "shape": "M1,0L0.1,-0.36L0.1,-0.09L-1,-0.09L-1,0.09L0.1,0.09L0.1,0.36Z", "size": 14400, "filled": true, "opacity": 1, "strokeWidth": 0, "color": "#111111"}, "encoding": {"x": {"datum": 11.24, "type": "quantitative"}, "y": {"datum": 72.8, "type": "quantitative", "scale": {"domain": [60, 130], "nice": false}, "axis": null}}},
{"data": {"values": [{}]}, "mark": {"type": "text", "align": "right", "baseline": "middle", "fontSize": 62, "color": "black"}, "encoding": {"x": {"datum": 14.9, "type": "quantitative"}, "y": {"datum": 137.46, "type": "quantitative", "scale": {"domain": [60, 130], "nice": false}, "axis": null}, "text": {"value": "(d)"}}}
],
"resolve": {"scale": {"y": "independent", "color": "independent"}}
},
{
"width": 927, "height": 783,
"layer": [
{"data": {"name": "e_fit"}, "mark": {"type": "line", "color": "#111111"}, "encoding": {
 "x": {"field": "T", "type": "quantitative", "scale": {"domain": [60, 120], "nice": false, "zero": false}, "axis": {"title": "Temperature(\u00b0C)", "titleFontWeight": "normal", "titleFontSize": 46, "titlePadding": 28, "values": [60,70,80,90,100,110,120], "labelExpr": "datum.value % 20 === 0 ? datum.label : ''", "tickSize": {"condition": {"test": "datum.value % 20 === 0", "value": 26}, "value": 15}}},
 "y": {"field": "v", "type": "quantitative", "title": "((R-R\u2080)/R\u2080)\u00d7100", "scale": {"domain": [0, 30], "nice": false}, "axis": {"values": [0,10,20,30], "title": "((R-R\u2080)/R\u2080)\u00d7100"}},
 "strokeWidth": {"value": 5}}},
{"data": {"name": "e_err"}, "mark": {"type": "rule", "color": "#111111", "strokeWidth": 5, "clip": true}, "encoding": {"x": {"field": "T", "type": "quantitative", "scale": {"domain": [60, 120], "nice": false, "zero": false}}, "y": {"field": "lo", "type": "quantitative", "title": "((R-R\u2080)/R\u2080)\u00d7100", "scale": {"domain": [0, 30], "nice": false}}, "y2": {"field": "hi"}}},
{"data": {"name": "e_err"}, "mark": {"type": "tick", "orient": "horizontal", "color": "#111111", "size": 40, "thickness": 5, "opacity": 1, "clip": true}, "encoding": {"x": {"field": "T", "type": "quantitative", "scale": {"domain": [60, 120], "nice": false, "zero": false}}, "y": {"field": "hi", "type": "quantitative", "title": "((R-R\u2080)/R\u2080)\u00d7100", "scale": {"domain": [0, 30], "nice": false}}}},
{"data": {"name": "e_err"}, "mark": {"type": "tick", "orient": "horizontal", "color": "#111111", "size": 40, "thickness": 5, "opacity": 1, "clip": true}, "encoding": {"x": {"field": "T", "type": "quantitative", "scale": {"domain": [60, 120], "nice": false, "zero": false}}, "y": {"field": "lo", "type": "quantitative", "title": "((R-R\u2080)/R\u2080)\u00d7100", "scale": {"domain": [0, 30], "nice": false}}}},
{"data": {"name": "e_pts"}, "mark": {"type": "point", "shape": "circle", "filled": true, "size": 1000, "opacity": 1, "color": "#111111"}, "encoding": {"x": {"field": "T", "type": "quantitative", "scale": {"domain": [60, 120], "nice": false, "zero": false}}, "y": {"field": "v", "type": "quantitative", "title": "((R-R\u2080)/R\u2080)\u00d7100", "scale": {"domain": [0, 30], "nice": false}}}},
{"data": {"values": [{}]}, "mark": {"type": "text", "align": "left", "baseline": "alphabetic", "color": "black"}, "encoding": {"x": {"datum": 61.42, "type": "quantitative"}, "y": {"datum": 27.13, "type": "quantitative"}, "text": {"value": "((R-R\u2080)/R\u2080)\u00d7100=-0.3109T+36.51"}}},
{"data": {"values": [{}]}, "mark": {"type": "text", "align": "left", "baseline": "alphabetic", "color": "black"}, "encoding": {"x": {"datum": 63.17, "type": "quantitative"}, "y": {"datum": 24.6, "type": "quantitative"}, "text": {"value": "R\u00b2=0.78"}}},
{"data": {"values": [{}]}, "mark": {"type": "text", "align": "right", "baseline": "middle", "fontSize": 62, "color": "black"}, "encoding": {"x": {"datum": 128.16, "type": "quantitative"}, "y": {"datum": 32.97, "type": "quantitative"}, "text": {"value": "(e)"}}}
]
},
{
"width": 929, "height": 783,
"layer": [
{"data": {"name": "f_temp"}, "mark": {"type": "line"}, "encoding": {
 "x": {"field": "t", "type": "quantitative", "scale": {"domain": [0.2, 3.5], "nice": false, "zero": false}, "axis": {"title": "Time (hr)", "format": "d", "values": [1,2,3]}},
 "y": {"field": "v", "type": "quantitative", "scale": {"domain": [0, 150], "nice": false}, "axis": {"orient": "left", "values": [0,50,100,150], "title": "Temperature (\u00b0C)", "titleColor": "#ff1a1a", "titleX": -129, "titleY": 662, "titleAlign": "left", "titleAngle": 270, "titleBaseline": "bottom"}},
 "color": {"datum": "Temperature(\u00b0C)", "scale": {"domain": ["Temperature(\u00b0C)"], "range": ["#ff1a1a"]}, "legend": {"title": null, "symbolType": "M-1.35,-0.07H1.35V0.07H-1.35ZM-0.26,-0.26H0.26V0.26H-0.26Z", "symbolFillColor": "#ff1a1a", "legendX": 303, "legendY": 31, "labelOffset": 39}},
 "strokeWidth": {"value": 15}}},
{"data": {"name": "f_rh"}, "mark": {"type": "line"}, "encoding": {
 "x": {"field": "t", "type": "quantitative", "scale": {"domain": [0.2, 3.5], "nice": false, "zero": false}},
 "y": {"field": "v", "type": "quantitative", "scale": {"domain": [0, 150], "nice": false}, "axis": {"orient": "left", "labels": false, "ticks": false, "domain": false, "title": "RH(%)", "titleColor": "#3158f2", "titleX": -129, "titleY": 264, "titleAlign": "left", "titleAngle": 270, "titleBaseline": "bottom"}},
 "color": {"datum": "RH(%)", "scale": {"domain": ["RH(%)"], "range": ["#3158f2"]}, "legend": {"title": null, "symbolType": "M-1.35,-0.07H1.35V0.07H-1.35ZM-0.26,0.22L0,-0.25L0.26,0.22Z", "symbolFillColor": "#3158f2", "legendX": 33, "legendY": 34, "labelOffset": 38}},
 "strokeWidth": {"value": 10}}},
{"data": {"name": "f_fep"}, "mark": {"type": "line"}, "encoding": {
 "x": {"field": "t", "type": "quantitative", "scale": {"domain": [0.2, 3.5], "nice": false, "zero": false}},
 "y": {"field": "v", "type": "quantitative", "scale": {"domain": [0, 30], "nice": false}, "axis": {"orient": "right", "values": [0,10,20,30], "title": "((R-R\u2080)/R\u2080)\u00d7100"}},
 "color": {"datum": "(R-R\u2080)100/R\u2080-FEP+CNT-coated", "scale": {"domain": ["(R-R\u2080)100/R\u2080-FEP+CNT-coated"], "range": ["#4aa83a"]}, "legend": {"title": null, "symbolType": "M-1.35,-0.07H1.35V0.07H-1.35ZM-0.24,0A0.24,0.24,0,1,1,0.24,0A0.24,0.24,0,1,1,-0.24,0Z", "symbolFillColor": "#4aa83a", "legendX": 29, "legendY": -58, "labelOffset": 38}},
 "strokeWidth": {"value": 7}}},
{"data": {"values": [{}]}, "mark": {"type": "point", "shape": "M-1,0L-0.1,-0.36L-0.1,-0.09L1,-0.09L1,0.09L-0.1,0.09L-0.1,0.36Z", "size": 13225, "filled": true, "opacity": 1, "strokeWidth": 0, "color": "#ff1a1a"}, "encoding": {"x": {"datum": 1.458, "type": "quantitative"}, "y": {"datum": 111.5, "type": "quantitative", "scale": {"domain": [0, 150], "nice": false}, "axis": null}}},
{"data": {"values": [{}]}, "mark": {"type": "point", "shape": "M1,0L0.1,-0.36L0.1,-0.09L-1,-0.09L-1,0.09L0.1,0.09L0.1,0.36Z", "size": 13225, "filled": true, "opacity": 1, "strokeWidth": 0, "color": "#4aa83a"}, "encoding": {"x": {"datum": 2.693, "type": "quantitative"}, "y": {"datum": 103, "type": "quantitative", "scale": {"domain": [0, 150], "nice": false}, "axis": {"orient": "left", "labels": false, "ticks": false, "domain": false, "title": "/", "titleColor": "black", "titleX": -129, "titleY": 282, "titleAlign": "center", "titleAngle": 270, "titleBaseline": "bottom"}}}},
{"data": {"values": [{}]}, "mark": {"type": "point", "shape": "M-1,0L-0.1,-0.36L-0.1,-0.09L1,-0.09L1,0.09L-0.1,0.09L-0.1,0.36Z", "size": 13225, "filled": true, "opacity": 1, "strokeWidth": 0, "color": "#3158f2"}, "encoding": {"x": {"datum": 0.623, "type": "quantitative"}, "y": {"datum": 17.3, "type": "quantitative", "scale": {"domain": [0, 150], "nice": false}, "axis": null}}},
{"data": {"values": [{}]}, "mark": {"type": "text", "align": "right", "baseline": "middle", "fontSize": 62, "color": "black"}, "encoding": {"x": {"datum": 4.143, "type": "quantitative"}, "y": {"datum": 163.98, "type": "quantitative", "scale": {"domain": [0, 150], "nice": false}, "axis": null}, "text": {"value": "(f)"}}}
],
"resolve": {"scale": {"y": "independent", "color": "independent"}}
}
],
"columns": 3,
"spacing": {"row": -21, "column": 12},
"resolve": {"scale": {"color": "independent"}},
"config": {
 "font": "Liberation Sans",
 "view": {"stroke": "black", "strokeWidth": 8},
 "axis": {"labelFont": "Liberation Sans", "labelFontSize": 46, "labelFontWeight": "bold", "labelColor": "black", "titleFont": "Liberation Sans", "titleFontSize": 45, "titleFontWeight": "bold", "titleColor": "black", "domainColor": "black", "domainWidth": 8, "tickColor": "black", "tickWidth": 8, "tickSize": 26, "grid": false, "labelFlush": false, "labelOverlap": false},
 "axisX": {"labelPadding": 15, "titlePadding": 24},
 "axisLeft": {"labelPadding": 8, "titlePadding": 21},
 "axisRight": {"labelPadding": 10, "titlePadding": 34},
 "legend": {"orient": "none", "padding": 0, "offset": 0, "labelFont": "Liberation Sans", "labelFontSize": 46, "labelColor": "black", "labelLimit": 3000, "symbolSize": 2116, "symbolStrokeWidth": 0, "symbolOpacity": 1},
 "text": {"font": "Liberation Sans", "fontSize": 46}
}
}
